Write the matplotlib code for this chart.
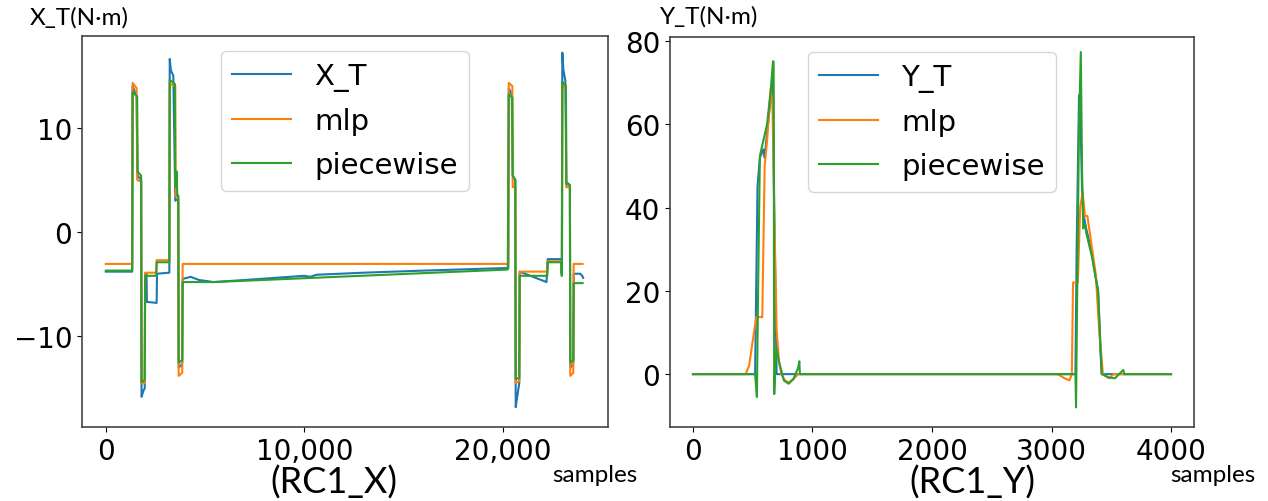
import matplotlib
matplotlib.use("Agg")
import matplotlib.pyplot as plt
from matplotlib.ticker import StrMethodFormatter

# ---- left panel (RC1_X) : vertices ----
xt_x = [0, 1330, 1350, 1450, 1550, 1600, 1780, 1800, 1900, 1960, 1980, 2050, 2070, 2560, 2580,
        3200, 3220, 3280, 3400, 3500, 3650, 3670, 3800, 3850, 3870, 4270, 4700, 5430, 7000,
        10000, 10300, 10600, 13000, 16000, 20250, 20280, 20300, 20450, 20500, 20630,
        20650, 20750, 20830, 20850, 22200, 22230, 22260, 22950, 22970, 23000, 23050, 23150,
        23200, 23380, 23400, 23500, 23560, 23570, 23900, 24000, 24050]
xt_y = [-3.8, -3.8, 14.0, 13.5, 13.0, 5.4, 5.0, -15.8, -15.2, -15.0, -4.0, -4.0, -6.7, -6.8, -4.0,
        -3.9, 16.6, 15.5, 15.0, 3.0, 3.2, -13.0, -12.8, -12.5, -4.5, -4.3, -4.6, -4.8, -4.6,
        -4.2, -4.3, -4.1, -3.9, -3.7, -3.45, -3.45, 13.8, 13.2, 5.4, 5.0,
        -16.8, -15.5, -14.5, -3.8, -4.8, -4.0, -2.6, -2.6, -4.0, 17.2, 15.6, 14.5,
        4.8, 4.5, -13.0, -12.8, -12.5, -4.0, -4.0, -4.2, -4.4]

mlp_x_x = [0, 1330, 1350, 1550, 1580, 1780, 1800, 1960, 1980, 2540, 2560, 3200, 3220, 3500, 3520,
           3650, 3670, 3850, 3870, 20280, 20300, 20480, 20500, 20630, 20650, 20830, 20850,
           22240, 22260, 22980, 23000, 23180, 23200, 23380, 23400, 23550, 23570, 24020]
mlp_x_y = [-3.06, -3.06, 14.3, 13.8, 5.0, 4.8, -14.5, -14.5, -3.9, -3.9, -2.7, -2.7, 14.2, 14.0, 3.4,
           3.4, -13.8, -13.5, -3.06, -3.06, 14.3, 14.0, 4.3, 4.3, -14.5, -14.3, -3.8,
           -3.8, -2.8, -2.8, 14.0, 13.8, 4.3, 4.3, -13.8, -13.5, -3.06, -3.06]

pw_x_x = [0, 1330, 1350, 1580, 1600, 1780, 1800, 1960, 1980, 2540, 2560, 3200, 3220, 3480, 3500,
          3560, 3570, 3600, 3650, 3670, 3850, 3870, 5430, 20250, 20300, 20480, 20500, 20630,
          20650, 20830, 20850, 22240, 22260, 22940, 22960, 22980, 23000, 23180, 23200, 23380,
          23400, 23550, 23570, 24020]
pw_x_y = [-3.7, -3.7, 13.4, 13.0, 5.8, 5.4, -14.4, -14.2, -4.2, -4.2, -2.9, -2.9, 14.6, 14.2, 4.3,
          4.3, 5.8, 3.5, 3.5, -12.5, -12.3, -4.8, -4.8, -3.6, 13.2, 12.9, 5.4, 5.0,
          -14.1, -14.0, -4.2, -4.2, -2.9, -2.9, -4.2, -4.2, 14.4, 14.0, 4.6, 4.5,
          -12.5, -12.3, -4.9, -4.9]

# ---- right panel (RC1_Y) ----
yt_x = [0, 520, 540, 560, 590, 600, 620, 650, 670, 680, 700, 900, 3200, 3210, 3230, 3240,
        3255, 3270, 3290, 3330, 3390, 3410, 3420, 3600, 4000]
yt_y = [0, 0, 45, 52, 54, 52, 58, 66, 71, 40, 0, 0, 0, 30, 67, 64,
        45, 38, 35, 30, 20, 5, 0, 0, 0]

mlp_y_x = [0, 440, 470, 500, 530, 580, 600, 620, 650, 665, 680, 700, 720, 740, 770, 800, 840,
           880, 3050, 3110, 3150, 3170, 3180, 3220, 3240, 3260, 3280, 3300, 3330, 3370, 3400,
           3430, 3480, 3520, 4000]
mlp_y_y = [0, 0, 2, 8, 13.7, 13.7, 50, 56, 68.5, 65, 40, 10.8, 3, 0, -1.5, -2, -1.2,
           0, 0, -1, -1.5, 0, 22, 22, 40, 43.7, 38, 38, 32, 24, 10,
           0, -1, 0, 0]

pw_y_x = [0, 520, 535, 545, 560, 580, 620, 650, 670, 675, 680, 690, 700, 720, 760, 800, 840,
          880, 890, 895, 3200, 3205, 3215, 3230, 3245, 3255, 3265, 3280, 3290, 3340, 3390,
          3420, 3480, 3530, 3600, 3610, 4000]
pw_y_y = [0, 0, -5.5, 20, 52.4, 55, 60, 68, 75.2, 75, -4.8, 3, 6, 3, -1.5, -2.3, -1.2,
          1.5, 3.1, 0, 0, -8, 20, 60, 77.4, 50, 35, 36, 34, 28, 19.7,
          0, -0.8, -1, 1, 0, 0]

plt.rcParams['font.family'] = 'DejaVu Sans'

fig = plt.figure(figsize=(12.68, 5.02), dpi=100)
fig.patch.set_facecolor('white')

W, H = 1268, 502
ax1 = fig.add_axes([82 / W, 74 / H, 526 / W, 391 / H])
ax2 = fig.add_axes([670 / W, 74 / H, 524 / W, 390 / H])

ax1.plot(xt_x, xt_y, color='C0', lw=1.5, label='X_T')
ax1.plot(mlp_x_x, mlp_x_y, color='C1', lw=1.5, label='mlp')
ax1.plot(pw_x_x, pw_x_y, color='C2', lw=1.5, label='piecewise')
ax1.set_xlim(-1200, 25300)
ax1.set_ylim(-18.7, 18.8)
ax1.set_xticks([0, 10000, 20000])
ax1.set_yticks([-10, 0, 10])
ax1.xaxis.set_major_formatter(StrMethodFormatter('{x:,.0f}'))

ax2.plot(yt_x, yt_y, color='C0', lw=1.5, label='Y_T')
ax2.plot(mlp_y_x, mlp_y_y, color='C1', lw=1.5, label='mlp')
ax2.plot(pw_y_x, pw_y_y, color='C2', lw=1.5, label='piecewise')
ax2.set_xlim(-192, 4192)
ax2.set_ylim(-12.7, 81)
ax2.set_xticks([0, 1000, 2000, 3000, 4000])
ax2.set_yticks([0, 20, 40, 60, 80])

for ax in (ax1, ax2):
    ax.tick_params(labelsize=20)
    for s in ax.spines.values():
        s.set_color('#444444')
        s.set_linewidth(1.2)
    ax.legend(loc='upper center', fontsize=21, labelspacing=0.55,
              bbox_to_anchor=(0.5, 1.0))

# text that was added on top of the plots
lab = dict(family='Lato', color='black')
fig.text(30 / W, 1 - 18 / H, 'X_T(N·m)', fontsize=17.5, va='center', ha='left', **lab)
fig.text(660 / W, 1 - 17 / H, 'Y_T(N·m)', fontsize=17.5, va='center', ha='left', **lab)
fig.text(334 / W, 1 - 483 / H, '(RC1_X)', fontsize=26, va='center', ha='center', **lab)
fig.text(972 / W, 1 - 483 / H, '(RC1_Y)', fontsize=26, va='center', ha='center', **lab)
fig.text(595 / W, 1 - 475 / H, 'samples', fontsize=17.5, va='center', ha='center', **lab)
fig.text(1213 / W, 1 - 475 / H, 'samples', fontsize=17.5, va='center', ha='center', **lab)

fig.savefig('out.png', dpi=100)
